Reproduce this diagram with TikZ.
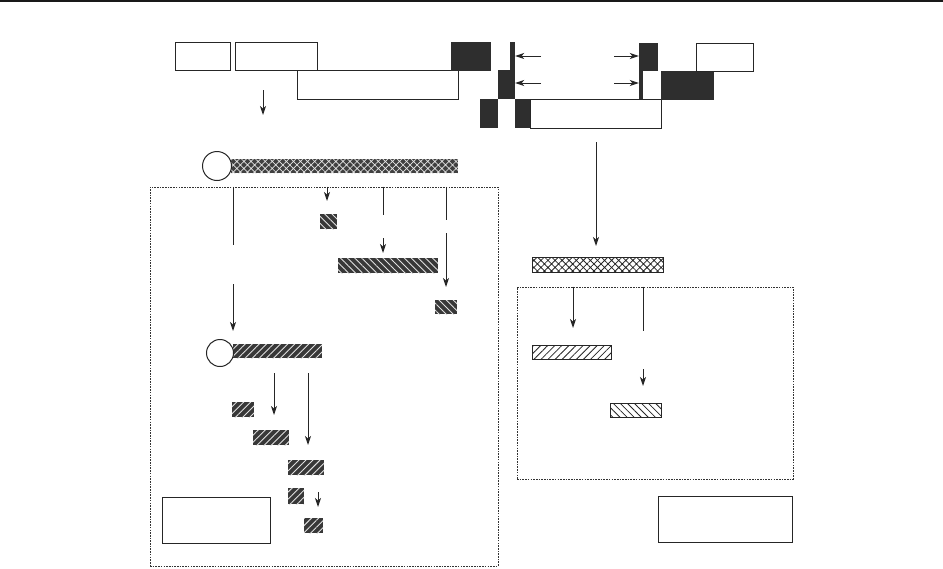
\documentclass[tikz,border=0pt]{standalone}
\usetikzlibrary{arrows.meta,fit,patterns.meta}

\begin{document}
\begin{tikzpicture}[x=1pt,y=-1pt,>={Stealth[length=9pt,width=6pt,inset=2.5pt]},
  box/.style={draw=black!85,line width=1pt,fill=white,inner sep=0pt},
  blk/.style={fill=black!82,inner sep=0pt},
  dhatch/.style={fill=black!78,inner sep=0pt,
    postaction={pattern={Lines[angle=#1,distance=5pt,line width=0.9pt]},pattern color=black!12}},
  lhatch/.style={draw=black!85,line width=0.9pt,fill=white,inner sep=0pt,
    postaction={pattern={Lines[angle=#1,distance=5pt,line width=0.8pt]},pattern color=black!85}},
  dcross/.style={fill=black!75,inner sep=0pt,
    postaction={pattern={Hatch[angle=45,distance=5pt,line width=0.7pt]},pattern color=black!10}},
  lcross/.style={draw=black!85,line width=0.9pt,fill=white,inner sep=0pt,
    postaction={pattern={Hatch[angle=45,distance=5pt,line width=0.8pt]},pattern color=black!85}},
  dot/.style={circle,draw=black!85,line width=1pt,fill=white,inner sep=0pt,minimum size=#1},
  region/.style={draw=black!80,line width=0.9pt,dash pattern=on 1.6pt off 1.1pt,inner sep=0pt},
  arr/.style={->,draw=black!85,line width=1pt},
  ln/.style={draw=black!85,line width=0.9pt}]
\useasboundingbox (0,0) rectangle (943,568);
\draw[line width=3pt,black!90] (0,0) -- (943,0);

% top row, left part
\node[box,fit={(175,42) (230,70)}] (ex1) {};
\node[box,fit={(297,70) (458,99)}] (ex3) {};
\node[box,fit={(235,42) (317,70)}] (ex2) {};
\node[blk,fit={(451,42) (491,71)}] (d1) {};
\coordinate (t1) at (263,90);
\coordinate (t2) at (263,115);
\draw[arr] (t1) -- (t2);

% top row, staircase
\node[blk,fit={(510,42) (515,70)}] (st1) {};
\node[blk,fit={(498,70) (515,99)}] (st2) {};
\node[blk,fit={(480,99) (498,128)}] (st3) {};
\node[blk,fit={(515,99) (530,128)}] (d2) {};
\node[box,fit={(530,99) (661,128)}] (ex4) {};
\node[blk,fit={(639,43) (658,71)}] (st4) {};
\node[blk,fit={(639,71) (643,99)}] (st5) {};
\node[blk,fit={(661,71) (714,100)}] (d3) {};
\node[box,fit={(696,43) (753,71)}] (ex5) {};
\draw[ln] (ex5.south west) -- (ex5.south east);
\coordinate (p1) at (541,56);
\coordinate (p2) at (541,83);
\coordinate (q1) at (614,56);
\coordinate (q2) at (614,83);
\draw[arr] (p1) -- (st1.east |- p1);
\draw[arr] (p2) -- (st2.east |- p2);
\draw[arr] (q1) -- (st4.west |- q1);
\draw[arr] (q2) -- (st5.west |- q2);

% left branch
\node[dcross,fit={(231,159) (458,173)}] (bar1) {};
\node[dot=29pt] (c1) at (217,166) {};
\node[region,fit={(150,187) (498,566)}] (regL) {};
\coordinate (u1) at (233,245);
\coordinate (u2) at (233,284);
\coordinate (u3) at (233,331);
\draw[ln] (regL.north -| u1) -- (u1);
\draw[arr] (u2) -- (u3);
\node[dhatch=-45,fit={(320,214) (337,229)}] (s1) {};
\coordinate (v1) at (327,201);
\draw[arr] (regL.north -| v1) -- (v1);
\node[dhatch=-45,fit={(338,258) (438,273)}] (s2) {};
\coordinate (v2) at (383,215);
\coordinate (v3) at (383,238);
\coordinate (v4) at (383,253);
\draw[ln] (regL.north -| v2) -- (v2);
\draw[arr] (v3) -- (v4);
\node[dhatch=-45,fit={(435,300) (457,314)}] (s3) {};
\coordinate (w1) at (446,220);
\coordinate (w2) at (446,233);
\coordinate (w3) at (446,287);
\draw[ln] (regL.north -| w1) -- (w1);
\draw[arr] (w2) -- (w3);

\node[dhatch=45,fit={(233,344) (322,358)}] (bar2) {};
\node[dot=27pt] (c2) at (220,353) {};
\coordinate (x1) at (274,373);
\coordinate (x2) at (274,415);
\coordinate (y1) at (308,373);
\coordinate (y2) at (308,445);
\draw[arr] (x1) -- (x2);
\draw[arr] (y1) -- (y2);
\node[dhatch=45,fit={(232,402) (254,417)}] (r1) {};
\node[dhatch=45,fit={(253,430) (289,445)}] (r2) {};
\node[dhatch=45,fit={(288,460) (324,475)}] (r3) {};
\node[dhatch=45,fit={(288,488) (304,504)}] (r4) {};
\coordinate (z1) at (318,492);
\coordinate (z2) at (318,507);
\draw[arr] (z1) -- (z2);
\node[dhatch=45,fit={(304,518) (323,533)}] (r5) {};
\node[box,fit={(162,497) (270,543)}] (keyL) {};

% right branch
\coordinate (m1) at (596,142);
\coordinate (m2) at (596,246);
\draw[arr] (m1) -- (m2);
\node[lcross,fit={(532,257) (663,272)}] (bar3) {};
\node[region,fit={(517,287) (793,479)}] (regR) {};
\coordinate (n1) at (573,328);
\draw[arr] (regR.north -| n1) -- (n1);
\coordinate (n2) at (643,331);
\coordinate (n3) at (643,369);
\coordinate (n4) at (643,386);
\draw[ln] (regR.north -| n2) -- (n2);
\draw[arr] (n3) -- (n4);
\node[lhatch=45,fit={(532,345) (611,359)}] (l1) {};
\node[lhatch=-45,fit={(610,403) (661,417)}] (l2) {};
\node[box,fit={(658,496) (792,542)}] (keyR) {};
\end{tikzpicture}
\end{document}
